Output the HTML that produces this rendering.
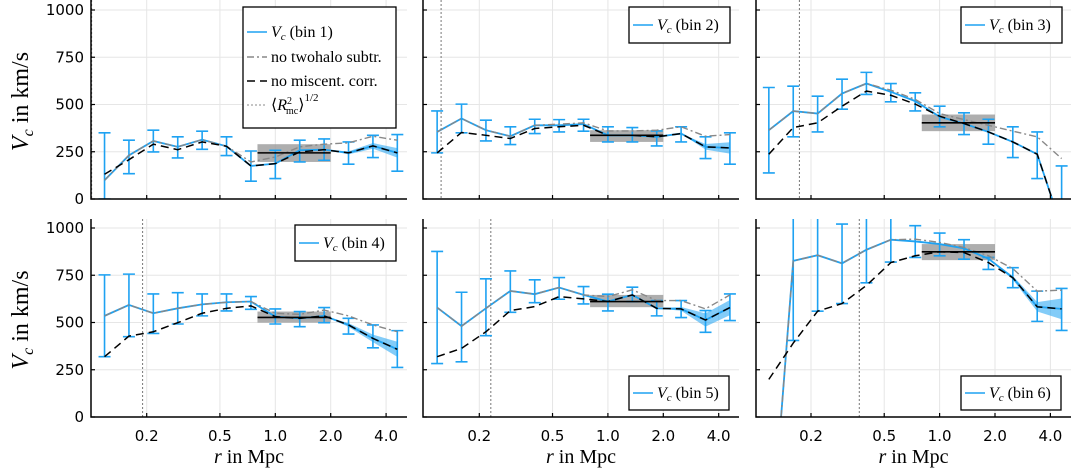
<!DOCTYPE html>
<html><head><meta charset="utf-8">
<style>
html,body{margin:0;padding:0;background:#fff;width:1073px;height:470px;overflow:hidden;}
svg{display:block;}
.tk{font-family:"DejaVu Sans","Liberation Sans",sans-serif;font-size:15px;fill:#000;}
.sf{font-family:"Liberation Serif","DejaVu Serif",serif;fill:#000;}
</style></head>
<body>
<svg id="chart" width="1073" height="470" viewBox="0 0 1073 470" xmlns="http://www.w3.org/2000/svg"></svg>
<script>
const panelNames = ["bin 1","bin 2","bin 3","bin 4","bin 5","bin 6"];
const xTickVals = [0.2,0.5,1.0,2.0,4.0];
const xTickLabels = ["0.2","0.5","1.0","2.0","4.0"];
const yTickVals = [0,250,500,750,1000];
const yTickLabels = ["0","250","500","750","1000"];
const radiiLog0 = 0.118; // first radius (Mpc)
const radiiStepDex = 0.1326;
const vc = [
 [99,231,307,276,314,279,175,187,258,261,244,281,244],
 [355,426,364,332,390,390,396,337,337,329,346,276,270],
 [364,465,452,558,611,567,518,435,399,355,302,237,-150],
 [535,593,549,575,596,607,611,531,522,535,487,416,358],
 [579,481,575,667,650,685,646,611,646,575,572,513,579],
 [-830,826,856,813,885,938,929,915,892,838,737,583,572]];
const errLo = [
 [0,134,249,217,263,230,94,108,196,205,184,219,147],
 [244,350,307,288,346,355,359,302,302,281,302,214,184],
 [138,329,355,475,553,514,466,382,341,290,219,108,-200],
 [319,425,442,492,535,561,570,492,478,499,439,366,262],
 [283,292,430,554,605,623,598,561,611,535,526,448,510],
 [-1200,405,560,600,710,820,844,853,835,781,684,506,458]];
const errHi = [
 [350,311,364,329,359,329,254,258,311,318,302,337,341],
 [466,502,417,382,422,420,422,382,378,360,382,329,350],
 [590,597,544,634,670,611,562,491,456,422,382,355,175],
 [752,756,651,658,651,651,637,572,558,579,522,487,457],
 [876,660,731,773,726,738,690,650,687,616,616,563,651],
 [-400,1300,1300,1021,1051,1150,1012,973,938,844,790,666,680]];
const twoHalo = [
 [99,231,307,276,314,279,196,222,276,290,297,332,311],
 [355,426,364,332,390,396,403,360,360,364,382,332,341],
 [364,465,452,558,611,576,527,452,420,390,359,329,214],
 [535,593,549,575,596,607,611,549,543,566,535,487,451],
 [579,481,575,667,650,685,646,637,673,616,616,572,646],
 [-830,826,856,813,885,938,941,924,897,853,785,666,671]];
const noMiscent = [
 [131,208,290,261,302,279,175,187,249,261,244,281,244],
 [244,352,337,320,373,382,390,337,337,329,346,276,270],
 [237,378,403,491,571,549,502,438,399,355,302,237,-150],
 [319,428,451,499,549,575,588,531,522,535,487,416,358],
 [319,363,451,563,584,637,625,611,646,575,572,513,579],
 [199,391,560,600,696,817,853,874,870,817,737,583,572]];
const bandHalf = [
 [0,0,0,0,0,0,0,0,0,0,8,15,25],
 [0,0,0,0,0,0,0,0,0,0,0,15,30],
 [0,0,0,0,0,0,0,0,0,0,0,0,0],
 [0,0,0,0,0,0,0,0,0,0,10,20,40],
 [0,0,0,0,0,0,0,0,0,0,10,35,40],
 [0,0,0,0,0,0,0,0,0,0,10,25,55]];
const boxLo = [196,302,359,499,581,830];
const boxHi = [290,364,447,558,646,915];
const boxMean = [244,337,403,527,611,874];
const boxR = [0.8,2.0];
const rmsR = [0.1004,0.124,0.173,0.19,0.231,0.366];

const NS="http://www.w3.org/2000/svg";
const svg=document.getElementById('chart');
function mk(tag,attrs,parent){const e=document.createElementNS(NS,tag);for(const k in attrs)e.setAttribute(k,attrs[k]);(parent||svg).appendChild(e);return e;}
const colLeft=[91,423,756], colRight=[407,739,1071], col02=[146.7,479.3,811];
const rowTop=[0,219], rowZero=[199,417], rowK=[10,228];
const BLUE="#1ea2f2";
const radii = vc[0].map((_,i)=>radiiLog0*Math.pow(10,radiiStepDex*i));

// clip a pixel polyline to the band yMin..yMax (pixel coords)
function clipPoly(pts,yMin,yMax){
  const out=[];
  const inside=p=>p[1]>=yMin&&p[1]<=yMax;
  const cross=(a,b,yc)=>{const t=(yc-a[1])/(b[1]-a[1]);return [a[0]+t*(b[0]-a[0]),yc];};
  for(let i=0;i<pts.length;i++){
    const p=pts[i];
    if(i>0){const q=pts[i-1];
      [yMin,yMax].forEach(yc=>{if((q[1]-yc)*(p[1]-yc)<0){out.push(cross(q,p,yc));}});
      if(out.length>=2){const a=out[out.length-2],b=out[out.length-1];
        if((b[0]<a[0]))out.splice(out.length-2,2,b,a);}
    }
    if(inside(p))out.push(p);
  }
  out.sort((a,b)=>a[0]-b[0]);
  return out.map(p=>p[0].toFixed(2)+','+p[1].toFixed(2)).join(' ');
}

for(let p=0;p<6;p++){
  const c=p%3, r=Math.floor(p/3);
  const X=v=>col02[c]+184*Math.log10(v/0.2);
  const Y=v=>rowZero[r]-(rowZero[r]-rowK[r])*v/1000;
  const clampY=y=>Math.max(rowTop[r],Math.min(rowZero[r],y));
  const g=mk('g',{});
  
  
  const cp=mk('clipPath',{id:'cp'+p},g);
  mk('rect',{x:colLeft[c],y:rowTop[r],width:colRight[c]-colLeft[c],height:rowZero[r]-rowTop[r]},cp);
  xTickVals.forEach(v=>{const l=mk('line',{x1:X(v),x2:X(v),y1:rowTop[r],y2:rowZero[r],stroke:'#e6e6e6','stroke-width':1},g);
    });
  yTickVals.forEach(v=>{const l=mk('line',{x1:colLeft[c],x2:colRight[c],y1:Y(v),y2:Y(v),stroke:'#e6e6e6','stroke-width':1},g);
    });
  const d=mk('g',{'clip-path':'url(#cp'+p+')'},g);
  const rl=mk('line',{x1:X(rmsR[p]),x2:X(rmsR[p]),y1:rowTop[r],y2:rowZero[r],stroke:'#777','stroke-width':1,'stroke-dasharray':'2,2'},d);
  
  const bx=mk('rect',{x:X(boxR[0]),y:Y(boxHi[p]),width:X(boxR[1])-X(boxR[0]),height:Y(boxLo[p])-Y(boxHi[p]),fill:'#9a9a9a','fill-opacity':0.8},d);
  
  let up=radii.map((rr,i)=>X(rr)+','+clampY(Y(vc[p][i]+bandHalf[p][i])));
  let dn=radii.map((rr,i)=>X(rr)+','+clampY(Y(vc[p][i]-bandHalf[p][i]))).reverse();
  const bd=mk('polygon',{points:up.concat(dn).join(' '),fill:BLUE,'fill-opacity':0.55},d);
  
  radii.forEach((rr,i)=>{const x=X(rr);
    const yl=Y(errLo[p][i]), yh=Y(errHi[p][i]);
    if(yl<rowTop[r]||yh>rowZero[r])return;
    const cyl=clampY(yl), cyh=clampY(yh);
    let dd=`M${x},${cyl}V${cyh}`;
    if(yl<=rowZero[r])dd+=`M${x-6},${yl}H${x+6}`;
    if(yh>=rowTop[r])dd+=`M${x-6},${yh}H${x+6}`;
    const eb=mk('path',{d:dd,stroke:BLUE,'stroke-width':1.6,fill:'none'},d);
    });
  const pl=arr=>clipPoly(radii.map((rr,i)=>[X(rr),Y(arr[i])]),rowTop[r],rowZero[r]);
  const l1=mk('polyline',{points:pl(vc[p]),stroke:BLUE,'stroke-width':1.8,fill:'none'},d);
  
  const l2=mk('polyline',{points:pl(twoHalo[p]),stroke:'#888','stroke-width':1.4,fill:'none','stroke-dasharray':'7,3,2,3'},d);
  
  const l3=mk('polyline',{points:pl(noMiscent[p]),stroke:'#000','stroke-width':1.5,fill:'none','stroke-dasharray':'8,5'},d);
  
  const bm=mk('line',{x1:X(boxR[0]),x2:X(boxR[1]),y1:Y(boxMean[p]),y2:Y(boxMean[p]),stroke:'#000','stroke-width':1.6},d);
  
  const ax=mk('path',{d:`M${colLeft[c]},${rowTop[r]}V${rowZero[r]}H${colRight[c]}`,stroke:'#000','stroke-width':1.5,fill:'none'},g);
  
  xTickVals.forEach((v,k)=>{mk('line',{x1:X(v),x2:X(v),y1:rowZero[r],y2:rowZero[r]-4,stroke:'#000','stroke-width':1.2},g);
    if(r==1){const t=mk('text',{x:X(v),y:441,'text-anchor':'middle',class:'tk'},g);t.textContent=xTickLabels[k];
      }});
  yTickVals.forEach((v,k)=>{mk('line',{x1:colLeft[c],x2:colLeft[c]+4,y1:Y(v),y2:Y(v),stroke:'#000','stroke-width':1.2},g);
    if(c==0){const t=mk('text',{x:84,y:Y(v)+5,'text-anchor':'end',class:'tk'},g);t.textContent=yTickLabels[k];
      }});
  if(r==1){const t=mk('text',{x:(colLeft[c]+colRight[c])/2,y:463,'text-anchor':'middle',class:'sf','font-size':20},g);
    t.innerHTML='<tspan font-style="italic">r</tspan> in Mpc';
    }
  if(c==0){const cy=(rowTop[r]+rowZero[r])/2+2;const t=mk('text',{x:0,y:0,transform:`translate(28,${cy}) rotate(-90)`,'text-anchor':'middle',class:'sf','font-size':24},g);
    t.innerHTML='<tspan font-style="italic">V</tspan><tspan font-style="italic" font-size="16" dy="5">c</tspan><tspan dy="-5"> in km/s</tspan>';
    }
  let lx,ly,lw,lh;
  if(p==0){lx=243;ly=7;lw=153;lh=121;}
  else if(p==3){lx=295;ly=225;lw=101;lh=36;}
  else if(p==1||p==2){lx=colRight[c]-110;ly=7;lw=101;lh=36;}
  else {lx=colRight[c]-110;ly=376;lw=100;lh=34;}
  const lg=mk('g',{},g);
  
  mk('rect',{x:lx,y:ly,width:lw,height:lh,fill:'#fff',stroke:'#000','stroke-width':1.3},lg);
  const rowsY=p==0?[ly+25,ly+50,ly+74,ly+98]:[ly+lh/2];
  const ent=[['',BLUE,''],['no twohalo subtr.','#888','7,3,2,3'],['no miscent. corr.','#000','8,5'],['','#888','2,2']];
  rowsY.forEach((yy,k)=>{
    const e=mk('g',{},lg);
    
    mk('line',{x1:lx+4,x2:lx+24,y1:yy,y2:yy,stroke:ent[k][1],'stroke-width':k==3?1:1.6,'stroke-dasharray':ent[k][2]},e);
    const t=mk('text',{x:lx+28,y:yy+5,class:'sf','font-size':16},e);
    if(k==0)t.innerHTML='<tspan font-style="italic">V</tspan><tspan font-style="italic" font-size="11" dy="3">c</tspan><tspan dy="-3"> (bin '+(p+1)+')</tspan>';
    else if(k==3)t.innerHTML='⟨<tspan font-style="italic">R</tspan><tspan font-size="10" dy="-6">2</tspan><tspan font-size="10" dx="-6" dy="10">mc</tspan><tspan dy="-4">⟩</tspan><tspan font-size="11" dy="-9">1/2</tspan>';
    else t.textContent=ent[k][0];
  });
}
</script>
</body></html>
